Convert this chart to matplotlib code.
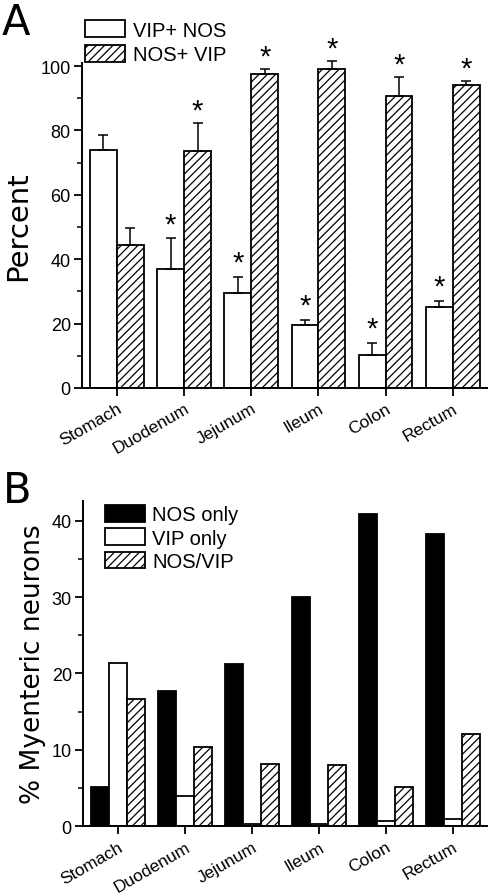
import numpy as np
import matplotlib
matplotlib.use("Agg")
import matplotlib.pyplot as plt
from matplotlib.ticker import MultipleLocator

plt.rcParams['font.family'] = ['Liberation Sans', 'DejaVu Sans']
plt.rcParams['hatch.linewidth'] = 0.9

regions = ['Stomach', 'Duodenum', 'Jejunum', 'Ileum', 'Colon', 'Rectum']

# panel A: percent co-expression, mean and upper error
vip_nos = [74.0, 37.0, 29.5, 19.7, 10.1, 25.0]
vip_nos_err = [4.6, 9.5, 4.9, 1.5, 3.9, 2.0]
vip_nos_sig = [False, True, True, True, True, True]
nos_vip = [44.5, 73.7, 97.4, 99.2, 90.7, 94.2]
nos_vip_err = [5.2, 8.7, 1.7, 2.3, 5.8, 1.2]
nos_vip_sig = [False, True, True, True, True, True]

# panel B: % of myenteric neurons
nos_only = [5.2, 17.7, 21.2, 30.0, 40.8, 38.3]
vip_only = [21.4, 4.0, 0.3, 0.3, 0.65, 0.9]
nos_and_vip = [16.6, 10.4, 8.1, 8.0, 5.2, 12.1]

x = np.arange(len(regions))

fig = plt.figure(figsize=(4.88, 8.95), dpi=100)

def style_axes(ax):
    for s in ['top', 'right']:
        ax.spines[s].set_visible(False)
    for s in ['left', 'bottom']:
        ax.spines[s].set_linewidth(1.4)
    ax.tick_params(axis='both', which='major', direction='out', length=6, width=1.3, labelsize=13)
    ax.tick_params(axis='y', which='minor', direction='out', length=3.5, width=1.1)
    ax.set_xticks(x)
    ax.set_xticklabels(regions, rotation=30, ha='right', rotation_mode='anchor')
    ax.tick_params(axis='x', pad=3, labelsize=12.5)
    ax.tick_params(axis='y', pad=2)

# ---- panel A
axA = fig.add_axes([0.168, 0.5654, 0.830, 0.3633])
w = 0.4
axA.bar(x - w/2, vip_nos, w, facecolor='white', edgecolor='black', linewidth=1.3, label='VIP+ NOS')
axA.bar(x + w/2, nos_vip, w, facecolor='white', edgecolor='black', linewidth=1.3, hatch='////', label='NOS+ VIP')
axA.errorbar(x - w/2, vip_nos, yerr=[np.zeros(6), vip_nos_err], fmt='none', ecolor='black',
             elinewidth=1.1, capsize=3.5, capthick=1.1, clip_on=False)
axA.errorbar(x + w/2, nos_vip, yerr=[np.zeros(6), nos_vip_err], fmt='none', ecolor='black',
             elinewidth=1.1, capsize=3.5, capthick=1.1, clip_on=False)
for i in range(len(regions)):
    if vip_nos_sig[i]:
        axA.text(x[i] - w/2, vip_nos[i] + vip_nos_err[i] + 4.4, '*', ha='center', va='center',
                 fontsize=21, clip_on=False)
    if nos_vip_sig[i]:
        axA.text(x[i] + w/2, nos_vip[i] + nos_vip_err[i] + 3.9, '*', ha='center', va='center',
                 fontsize=21, clip_on=False)
axA.set_xlim(-0.52, 5.51)
axA.set_ylim(0, 101)
axA.yaxis.set_major_locator(MultipleLocator(20))
axA.yaxis.set_minor_locator(MultipleLocator(10))
style_axes(axA)
axA.set_ylabel('Percent', fontsize=21, family='DejaVu Sans', labelpad=6)
axA.legend(loc='upper left', bbox_to_anchor=(-0.012, 1.155), frameon=False, fontsize=14.5,
           handlelength=2.0, handleheight=0.9, handletextpad=0.35, labelspacing=0.25, borderaxespad=0)
fig.text(0.004, 0.998, 'A', fontsize=30, family='DejaVu Sans', va='top')

# ---- panel B
axB = fig.add_axes([0.170, 0.0756, 0.828, 0.3638])
wb = 0.27
axB.bar(x - wb, nos_only, wb, facecolor='black', edgecolor='black', linewidth=1.3, label='NOS only')
axB.bar(x, vip_only, wb, facecolor='white', edgecolor='black', linewidth=1.3, label='VIP only')
axB.bar(x + wb, nos_and_vip, wb, facecolor='white', edgecolor='black', linewidth=1.3, hatch='////', label='NOS/VIP')
axB.set_xlim(-0.525, 5.51)
axB.set_ylim(0, 42.6)
axB.yaxis.set_major_locator(MultipleLocator(10))
axB.yaxis.set_minor_locator(MultipleLocator(5))
style_axes(axB)
axB.set_ylabel('% Myenteric neurons', fontsize=19, family='DejaVu Sans', labelpad=4)
axB.legend(loc='upper left', bbox_to_anchor=(0.035, 1.012), frameon=False, fontsize=14.5,
           handlelength=2.0, handleheight=0.9, handletextpad=0.35, labelspacing=0.2, borderaxespad=0)
fig.text(0.006, 1 - 470/895, 'B', fontsize=30, family='DejaVu Sans', va='top')

fig.savefig('out.png', dpi=100)
